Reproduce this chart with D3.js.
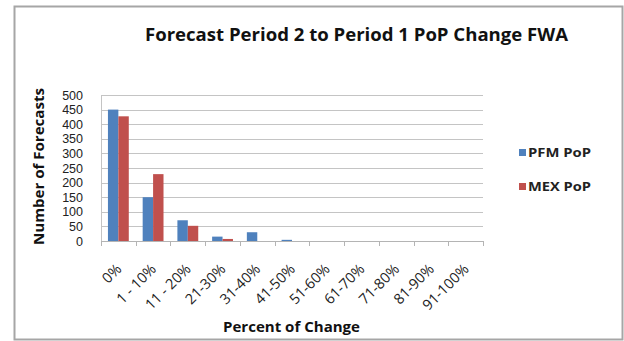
<!DOCTYPE html>
<html>
<head>
<meta charset="utf-8">
<script src="https://cdn.jsdelivr.net/npm/d3@7"></script>
<style>
  html, body { margin: 0; padding: 0; background: #fff; }
  svg { display: block; font-family: "Open Sans", "DejaVu Sans", sans-serif; }
</style>
</head>
<body>
<svg id="chart" width="624" height="341"></svg>
<script>
// Forecast counts per percent-change bucket
const categories = ["0%", "1 - 10%", "11 - 20%", "21-30%", "31-40%", "41-50%", "51-60%", "61-70%", "71-80%", "81-90%", "91-100%"];
const seriesNames = ["PFM PoP", "MEX PoP"];
const pfmValues = [450, 150, 71, 15, 30, 4, 0, 0, 0, 0, 0];
const mexValues = [427, 229, 52, 7, 0, 0, 0, 0, 0, 0, 0];
const yTicks = [0, 50, 100, 150, 200, 250, 300, 350, 400, 450, 500];
const colors = ["#4F81BD", "#C0504D"];

const rows = categories.map((c, i) => ({ cat: c, values: [pfmValues[i], mexValues[i]] }));

const svg = d3.select("#chart");

// outer frame
svg.append("rect")
  .attr("x", 14.5).attr("y", 6.5).attr("width", 608).attr("height", 333)
  .attr("fill", "#fff").attr("stroke", "#a6a6a6").attr("stroke-width", 2);

const plot = { left: 101, right: 483, top: 95, bottom: 241 };

const xStep = d3.scaleBand().domain(categories).range([plot.left, plot.right]);
const x = d3.scaleBand().domain(categories).range([plot.left, plot.right]).paddingInner(0.4).paddingOuter(0.2);
const xSub = d3.scaleBand().domain([0, 1]).range([0, x.bandwidth()]);
const y = d3.scaleLinear().domain([0, 500]).range([plot.bottom, plot.top]);

// horizontal gridlines
svg.append("g").selectAll("line").data(yTicks.filter(t => t > 0)).join("line")
  .attr("x1", plot.left).attr("x2", plot.right)
  .attr("y1", d => Math.round(y(d)) + 0.5).attr("y2", d => Math.round(y(d)) + 0.5)
  .attr("stroke", "#c4c4c4").attr("stroke-width", 1);

// vertical axis line
svg.append("line")
  .attr("x1", plot.left + 0.5).attr("x2", plot.left + 0.5)
  .attr("y1", plot.top).attr("y2", plot.bottom)
  .attr("stroke", "#c4c4c4");

// y tick labels
const yAxis = d3.axisLeft(y).tickValues(yTicks).tickSize(0).tickPadding(18);
const gy = svg.append("g").attr("transform", `translate(${plot.left},0)`).call(yAxis);
gy.select(".domain").remove();
gy.selectAll("text").attr("font-size", 12.5).attr("fill", "#222")
  .attr("font-family", "'Liberation Sans', Arial, sans-serif");

// bars
const groups = svg.append("g").selectAll("g").data(rows).join("g")
  .attr("transform", d => `translate(${x(d.cat)},0)`);
groups.selectAll("rect").data(d => d.values.map((v, k) => ({ v, k }))).join("rect")
  .attr("x", d => xSub(d.k))
  .attr("width", xSub.bandwidth())
  .attr("y", d => y(d.v))
  .attr("height", d => y(0) - y(d.v))
  .attr("fill", d => colors[d.k]);

// x axis line and tick marks at category boundaries
svg.append("line")
  .attr("x1", plot.left).attr("x2", plot.right)
  .attr("y1", plot.bottom + 0.5).attr("y2", plot.bottom + 0.5)
  .attr("stroke", "#b4b4b4");
const boundaries = categories.map(c => xStep(c)).concat([plot.right]);
svg.append("g").selectAll("line").data(boundaries).join("line")
  .attr("x1", d => Math.round(d) + 0.5).attr("x2", d => Math.round(d) + 0.5)
  .attr("y1", plot.bottom).attr("y2", plot.bottom + 5)
  .attr("stroke", "#b4b4b4");

// rotated category labels, ending just right of each bucket's centre
svg.append("g").selectAll("text").data(categories).join("text")
  .attr("transform", d => {
    const cx = xStep(d) + xStep.bandwidth() / 2 + 4;
    return `translate(${cx},${plot.bottom + 29}) rotate(-45)`;
  })
  .attr("text-anchor", "end")
  .attr("font-size", 14.5)
  .attr("fill", "#222")
  .text(d => d);

// title
svg.append("text")
  .attr("x", 356.5).attr("y", 41)
  .attr("text-anchor", "middle")
  .attr("font-size", 18).attr("font-weight", "bold").attr("fill", "#111")
  .attr("textLength", 423).attr("lengthAdjust", "spacingAndGlyphs")
  .text("Forecast Period 2 to Period 1 PoP Change FWA");

// axis titles
svg.append("text")
  .attr("x", 291.5).attr("y", 331.5)
  .attr("text-anchor", "middle")
  .attr("font-size", 14).attr("font-weight", "bold").attr("fill", "#111")
  .attr("textLength", 137).attr("lengthAdjust", "spacingAndGlyphs")
  .text("Percent of Change");

svg.append("text")
  .attr("transform", "translate(44,166.5) rotate(-90)")
  .attr("text-anchor", "middle")
  .attr("font-size", 14).attr("font-weight", "bold").attr("fill", "#111")
  .attr("textLength", 157).attr("lengthAdjust", "spacingAndGlyphs")
  .text("Number of Forecasts");

// legend
const legend = svg.append("g").selectAll("g").data(seriesNames).join("g")
  .attr("transform", (d, i) => `translate(519,${149 + i * 34})`);
legend.append("rect")
  .attr("x", 0).attr("y", 0).attr("width", 7).attr("height", 7)
  .attr("fill", (d, i) => colors[i]);
legend.append("text")
  .attr("x", 9).attr("y", 8)
  .attr("font-size", 13).attr("font-weight", "bold").attr("fill", "#222")
  .attr("textLength", 63).attr("lengthAdjust", "spacingAndGlyphs")
  .text(d => d);
</script>
</body>
</html>
